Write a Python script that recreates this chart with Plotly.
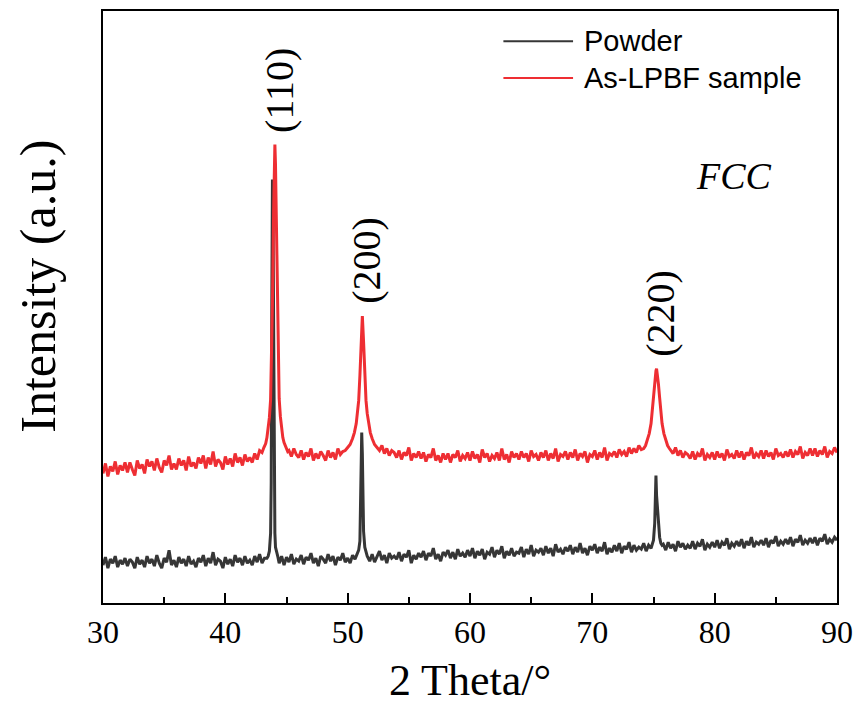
import numpy as np
import plotly.graph_objects as go

# Scan grid: 2-theta from 30 to 90 deg in 0.2 deg steps (301 points)
theta_start, theta_stop, theta_step = 30.0, 90.0, 0.2

# Powder pattern, coarse scan values (counts, a.u.)
powder_scan = [
    38, 46, 35, 44, 40, 47, 36, 43, 39, 45,
    37, 44, 41, 35, 46, 39, 43, 36, 47, 40,
    44, 37, 48, 40, 35, 45, 41, 53, 38, 43,
    36, 46, 40, 44, 37, 47, 39, 42, 36, 45,
    41, 48, 37, 45, 40, 51, 38, 44, 42, 35,
    46, 39, 44, 37, 48, 41, 45, 38, 47, 40,
    43, 38, 47, 41, 49, 40, 45, 45, 52, 300,
    110, 49, 40, 47, 38, 46, 41, 49, 39, 44,
    42, 48, 39, 46, 43, 50, 40, 45, 37, 47,
    44, 40, 49, 42, 47, 38, 46, 43, 50, 41,
    45, 40, 48, 44, 50, 62, 150, 56, 47, 42,
    49, 41, 46, 52, 43, 48, 40, 50, 45, 47,
    44, 51, 42, 49, 46, 53, 40, 48, 44, 50,
    46, 52, 43, 50, 47, 55, 44, 49, 42, 51,
    48, 53, 45, 51, 44, 54, 47, 50, 46, 53,
    47, 55, 45, 52, 48, 54, 44, 51, 49, 56,
    46, 53, 49, 57, 45, 52, 48, 55, 47, 51,
    50, 56, 46, 54, 49, 58, 47, 53, 51, 55,
    48, 57, 50, 55, 47, 59, 51, 54, 49, 56,
    52, 58, 49, 56, 51, 60, 50, 55, 48, 57,
    53, 59, 50, 56, 52, 61, 49, 55, 51, 58,
    52, 60, 50, 57, 54, 61, 51, 58, 53, 56,
    54, 60, 52, 58, 55, 63, 128, 85, 60, 59,
    53, 61, 55, 59, 52, 62, 56, 60, 54, 58,
    55, 62, 54, 60, 57, 64, 53, 59, 56, 61,
    56, 63, 55, 61, 58, 65, 54, 60, 57, 62,
    57, 64, 55, 62, 58, 66, 56, 61, 59, 63,
    58, 65, 56, 63, 60, 67, 57, 62, 59, 64,
    59, 66, 57, 64, 61, 68, 58, 63, 60, 65,
    60, 66, 58, 65, 62, 69, 59, 64, 61, 66,
    63,
]

# As-LPBF sample pattern, coarse scan values (counts, a.u.)
lpbf_scan = [
    130, 140, 127, 137, 132, 142, 129, 138, 133, 141,
    131, 141, 134, 128, 143, 135, 139, 130, 144, 137,
    142, 133, 145, 136, 131, 143, 138, 148, 134, 140,
    134, 145, 138, 143, 133, 147, 137, 141, 135, 146,
    140, 148, 135, 146, 139, 152, 137, 144, 141, 134,
    147, 139, 145, 137, 150, 141, 146, 138, 149, 142,
    146, 141, 150, 144, 153, 151, 160, 166, 186, 232,
    440, 300, 205, 176, 161, 155, 153, 147, 155, 149,
    146, 153, 144, 151, 147, 155, 143, 150, 145, 152,
    148, 143, 153, 146, 151, 144, 155, 149, 152, 147,
    156, 159, 165, 180, 228, 288, 228, 180, 165, 159,
    159, 156, 157, 153, 158, 150, 155, 148, 153, 151,
    146, 153, 144, 151, 148, 156, 143, 150, 146, 152,
    145, 151, 142, 149, 146, 155, 143, 148, 141, 150,
    144, 150, 141, 149, 146, 153, 142, 148, 145, 151,
    143, 152, 145, 149, 141, 154, 146, 150, 142, 148,
    145, 151, 143, 155, 144, 149, 141, 152, 146, 150,
    144, 152, 146, 150, 142, 153, 147, 149, 143, 151,
    146, 153, 143, 150, 145, 155, 142, 149, 147, 152,
    144, 151, 146, 154, 143, 150, 147, 152, 141, 149,
    147, 153, 144, 151, 146, 156, 143, 150, 148, 152,
    146, 154, 149, 152, 147, 156, 150, 155, 151, 158,
    154, 155, 163, 175, 208, 233, 220, 193, 175, 163,
    163, 156, 153, 150, 156, 148, 153, 146, 151, 149,
    145, 152, 144, 150, 147, 155, 143, 149, 146, 151,
    144, 152, 146, 150, 143, 154, 147, 149, 145, 153,
    146, 152, 144, 151, 148, 156, 145, 150, 147, 153,
    145, 153, 147, 151, 144, 155, 148, 150, 146, 152,
    147, 154, 146, 152, 149, 157, 145, 151, 148, 155,
    148, 155, 147, 153, 149, 157, 146, 152, 150, 156,
    151,
]

# Fine scans across each reflection: (2-theta list, counts list)
powder_110_theta = [43.4, 43.5, 43.6, 43.7, 43.75, 43.8, 43.85, 43.9, 43.95, 44.0, 44.05, 44.1, 44.2, 44.3]
powder_110_counts = [45, 47, 52, 70, 120, 300, 425, 380, 220, 110, 70, 56, 49, 46]
powder_200_theta = [50.8, 50.9, 51.0, 51.05, 51.1, 51.15, 51.2, 51.25, 51.3, 51.4, 51.5]
powder_200_counts = [50, 53, 62, 90, 140, 171, 150, 100, 72, 56, 51]
powder_220_theta = [74.9, 75.0, 75.1, 75.15, 75.2, 75.25, 75.3, 75.35, 75.4, 75.5, 75.6, 75.7]
powder_220_counts = [60, 63, 80, 105, 128, 108, 98, 96, 85, 66, 60, 58]

lpbf_110_theta = [43.0, 43.15, 43.3, 43.4, 43.5, 43.6, 43.7, 43.75, 43.85, 43.95, 44.0, 44.05,
                  44.1, 44.15, 44.25, 44.35, 44.4, 44.5, 44.6, 44.7, 44.8, 44.95, 45.1]
lpbf_110_counts = [151, 156, 160, 166, 175, 186, 204, 232, 300, 395, 440, 460,
                   440, 395, 300, 232, 205, 187, 176, 166, 161, 156, 152]
lpbf_200_theta = [49.8, 50.0, 50.2, 50.4, 50.55, 50.7, 50.8, 50.9, 51.0, 51.1, 51.2,
                  51.3, 51.4, 51.5, 51.6, 51.7, 51.85, 52.0, 52.2, 52.4, 52.6]
lpbf_200_counts = [153, 156, 159, 165, 171, 180, 190, 203, 228, 262, 288,
                   262, 228, 203, 190, 180, 171, 165, 159, 156, 153]
lpbf_220_theta = [74.2, 74.35, 74.5, 74.65, 74.8, 74.9, 75.0, 75.1, 75.2, 75.25,
                  75.3, 75.4, 75.5, 75.6, 75.7, 75.85, 76.0, 76.15, 76.3]
lpbf_220_counts = [155, 158, 163, 170, 180, 195, 208, 222, 233, 235,
                   231, 220, 206, 193, 180, 170, 163, 158, 155]

# Reflection labels (hkl), one per fine scan
hkl_labels = ["(110)", "(200)", "(220)"]

series_names = ["Powder", "As-LPBF sample"]
series_colors = ["#363636", "#ee2e33"]

grid = np.round(np.arange(theta_start, theta_stop + theta_step / 2, theta_step), 2)
assert len(grid) == len(powder_scan) == len(lpbf_scan)


def merge_scan(coarse, fine_scans):
    """Replace coarse points inside each fine-scan window by the fine data."""
    keep = np.ones(len(grid), dtype=bool)
    xs, ys = [], []
    for tx, cy in fine_scans:
        keep &= ~((grid >= min(tx)) & (grid <= max(tx)))
        xs.extend(tx)
        ys.extend(cy)
    x = np.concatenate([grid[keep], np.array(xs)])
    y = np.concatenate([np.array(coarse, dtype=float)[keep], np.array(ys, dtype=float)])
    order = np.argsort(x)
    return x[order], y[order]


powder_fine = [(powder_110_theta, powder_110_counts),
               (powder_200_theta, powder_200_counts),
               (powder_220_theta, powder_220_counts)]
lpbf_fine = [(lpbf_110_theta, lpbf_110_counts),
             (lpbf_200_theta, lpbf_200_counts),
             (lpbf_220_theta, lpbf_220_counts)]

px, py = merge_scan(powder_scan, powder_fine)
lx, ly = merge_scan(lpbf_scan, lpbf_fine)

fig = go.Figure()
fig.add_trace(go.Scatter(x=px, y=py, mode="lines", name=series_names[0],
                         line=dict(color=series_colors[0], width=3)))
fig.add_trace(go.Scatter(x=lx, y=ly, mode="lines", name=series_names[1],
                         line=dict(color=series_colors[1], width=3)))

serif = "Liberation Serif, Times New Roman, serif"
sans = "Liberation Sans, Arial, sans-serif"

# (hkl) labels just above the As-LPBF peak tops
for label, (tx, cy) in zip(hkl_labels, lpbf_fine):
    i = int(np.argmax(cy))
    fig.add_annotation(x=tx[i], y=cy[i], text=label, textangle=-90, showarrow=False,
                       xanchor="center", yanchor="bottom", xshift=4, yshift=10,
                       font=dict(family=serif, size=40, color="black"))

# Phase label
fig.add_annotation(x=0.86, y=0.722, xref="paper", yref="paper", text="<i>FCC</i>",
                   showarrow=False, xanchor="center", yanchor="middle",
                   font=dict(family=serif, size=38, color="black"))

# Y-axis title
fig.add_annotation(x=-0.088, y=0.535, xref="paper", yref="paper", text="Intensity (a.u.)",
                   textangle=-90, showarrow=False, xanchor="center", yanchor="middle",
                   font=dict(family=serif, size=50, color="black"))

# Legend: sample line + name for each series
legend_y = [0.949, 0.887]
for name, color, yy in zip(series_names, series_colors, legend_y):
    fig.add_shape(type="line", xref="paper", yref="paper", x0=0.5455, x1=0.6404,
                  y0=yy, y1=yy, line=dict(color=color, width=2))
    fig.add_annotation(x=0.6526, y=yy, xref="paper", yref="paper", text=name,
                       showarrow=False, xanchor="left", yanchor="middle",
                       font=dict(family=sans, size=29, color="black"))

fig.update_layout(
    width=862, height=708,
    margin=dict(l=103, r=22, t=9, b=105),
    plot_bgcolor="white", paper_bgcolor="white",
    showlegend=False,
)
fig.update_xaxes(
    range=[30, 90], tick0=30, dtick=10,
    ticks="inside", ticklen=10, tickwidth=2, tickcolor="black",
    minor=dict(dtick=5, ticks="inside", ticklen=6, tickwidth=2, tickcolor="black"),
    showline=True, linewidth=2, linecolor="black", mirror=True,
    showgrid=False, zeroline=False,
    tickfont=dict(family=serif, size=32, color="black"),
    title=dict(text="2 Theta/°", font=dict(family=serif, size=44, color="black"), standoff=15),
)
fig.update_yaxes(
    range=[0, 594], showticklabels=False, ticks="",
    showline=True, linewidth=2, linecolor="black", mirror=True,
    showgrid=False, zeroline=False,
)

fig.write_html("out.html")
